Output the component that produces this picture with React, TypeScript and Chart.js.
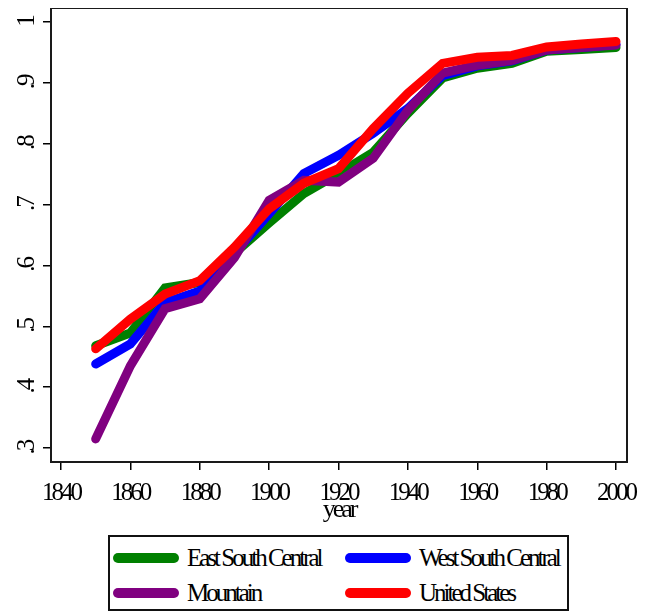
import React, { useEffect, useRef } from 'react';
import { Chart, registerables } from 'chart.js';

Chart.register(...registerables);

const YEARS = [1850, 1860, 1870, 1880, 1890, 1900, 1910, 1920, 1930, 1940, 1950, 1960, 1970, 1980, 1990, 2000];
const EAST_SOUTH_CENTRAL = [0.468, 0.489, 0.563, 0.572, 0.62, 0.67, 0.718, 0.751, 0.786, 0.85, 0.908, 0.924, 0.932, 0.952, 0.955, 0.958];
const WEST_SOUTH_CENTRAL = [0.438, 0.471, 0.539, 0.558, 0.62, 0.685, 0.751, 0.781, 0.817, 0.858, 0.912, 0.928, 0.936, 0.954, 0.958, 0.963];
const MOUNTAIN = [0.315, 0.435, 0.529, 0.545, 0.613, 0.707, 0.74, 0.737, 0.776, 0.855, 0.916, 0.929, 0.937, 0.954, 0.958, 0.962];
const UNITED_STATES = [0.463, 0.512, 0.553, 0.575, 0.63, 0.693, 0.735, 0.759, 0.825, 0.883, 0.932, 0.942, 0.945, 0.959, 0.964, 0.968];

const X_TICKS = [1840, 1860, 1880, 1900, 1920, 1940, 1960, 1980, 2000];
const Y_TICKS = [0.3, 0.4, 0.5, 0.6, 0.7, 0.8, 0.9, 1];
const Y_TICK_LABELS = ['.3', '.4', '.5', '.6', '.7', '.8', '.9', '1'];

const SERIES = [
  { label: 'East South Central', values: EAST_SOUTH_CENTRAL, color: '#008000' },
  { label: 'West South Central', values: WEST_SOUTH_CENTRAL, color: '#0000ff' },
  { label: 'Mountain', values: MOUNTAIN, color: '#800080' },
  { label: 'United States', values: UNITED_STATES, color: '#ff0000' },
];

const FONT = '"Liberation Serif", "Times New Roman", serif';
const SQUEEZE = '-3px';

// stata squeezes its text, so tighten the letters
const squeeze = {
  id: 'squeeze',
  beforeLayout(chart) { chart.ctx.letterSpacing = SQUEEZE; },
  beforeDraw(chart) { chart.ctx.letterSpacing = SQUEEZE; },
};

// full box round the plot region
const frame = {
  id: 'frame',
  afterDraw(chart) {
    const { ctx, chartArea: a } = chart;
    ctx.save();
    ctx.strokeStyle = '#1a1a1a';
    ctx.lineWidth = 2;
    ctx.strokeRect(a.left, a.top, a.right - a.left, a.bottom - a.top);
    ctx.restore();
  },
};

const LineChart = () => {
  const canvasRef = useRef(null);

  useEffect(() => {
    const ctx = canvasRef.current.getContext('2d');
    const c = new Chart(ctx, {
      type: 'line',
      data: {
        datasets: SERIES.map((s, i) => ({
          label: s.label,
          data: YEARS.map((x, j) => ({ x, y: s.values[j] })),
          borderColor: s.color,
          backgroundColor: s.color,
          borderWidth: 9,
          borderCapStyle: 'round',
          pointRadius: 0,
          fill: false,
          order: SERIES.length - i, // red on top
        })),
      },
      options: {
        animation: false,
        responsive: true,
        maintainAspectRatio: false,
        layout: { padding: { top: 1, right: 19, left: 0, bottom: 0 } },
        font: { family: FONT },
        plugins: {
          legend: { display: false },
          tooltip: { enabled: false },
        },
        scales: {
          x: {
            type: 'linear',
            min: 1837.12,
            max: 2003.17,
            bounds: 'data',
            afterBuildTicks: (s) => { s.ticks = X_TICKS.map((value) => ({ value })); },
            afterFit: (s) => { s.height = 73; s.paddingLeft = 0; s.paddingRight = 0; },
            border: { display: false },
            grid: { drawOnChartArea: false, drawTicks: true, tickLength: 8, color: '#000', lineWidth: 1.5 },
            ticks: {
              autoSkip: false,
              maxRotation: 0,
              padding: 8,
              color: '#000',
              font: { family: FONT, size: 25 },
              callback: (v) => String(v),
            },
            title: {
              display: true,
              text: 'year',
              color: '#000',
              font: { family: FONT, size: 26 },
              padding: { top: 0, bottom: 9 },
            },
          },
          y: {
            type: 'linear',
            min: 0.277,
            max: 1.023,
            bounds: 'data',
            afterBuildTicks: (s) => { s.ticks = Y_TICKS.map((value) => ({ value })); },
            afterFit: (s) => { s.width = 43; s.paddingTop = 0; s.paddingBottom = 0; },
            border: { display: false },
            grid: { drawOnChartArea: false, drawTicks: true, tickLength: 8, color: '#000', lineWidth: 1.5 },
            ticks: {
              autoSkip: false,
              minRotation: 90,
              maxRotation: 90,
              crossAlign: 'center',
              padding: 9,
              color: '#000',
              font: { family: FONT, size: 25 },
              callback: (v) => {
                const i = Y_TICKS.findIndex((t) => Math.abs(t - v) < 1e-9);
                return i >= 0 ? Y_TICK_LABELS[i] : '';
              },
            },
          },
        },
      },
      plugins: [squeeze, frame],
    });
    return () => {
      c.destroy();
    };
  }, []);

  return (
    <div style={{ position: 'relative', width: 638, height: 528, marginTop: -1 }}>
      <canvas ref={canvasRef} />
    </div>
  );
};

const Legend = () => (
  <div
    style={{
      position: 'relative',
      boxSizing: 'border-box',
      marginLeft: 100,
      width: 461,
      height: 76,
      border: '2px solid #111',
      fontFamily: FONT,
      fontSize: 25,
      letterSpacing: SQUEEZE,
      color: '#000',
    }}
  >
    {SERIES.map((s, i) => (
      <div
        key={s.label}
        style={{
          position: 'absolute',
          left: 3,
          marginLeft: i % 2 === 0 ? 0 : 232,
          top: i < 2 ? 3 : 38,
          height: 35,
          display: 'flex',
          alignItems: 'center',
          whiteSpace: 'nowrap',
        }}
      >
        <span style={{ display: 'inline-block', width: 66, height: 10, borderRadius: 5, background: s.color, marginRight: 8 }} />
        <span style={{ lineHeight: 1 }}>{s.label}</span>
      </div>
    ))}
  </div>
);

export default function App() {
  return (
    <div style={{ width: 638 }}>
      <LineChart />
      <Legend />
    </div>
  );
}
